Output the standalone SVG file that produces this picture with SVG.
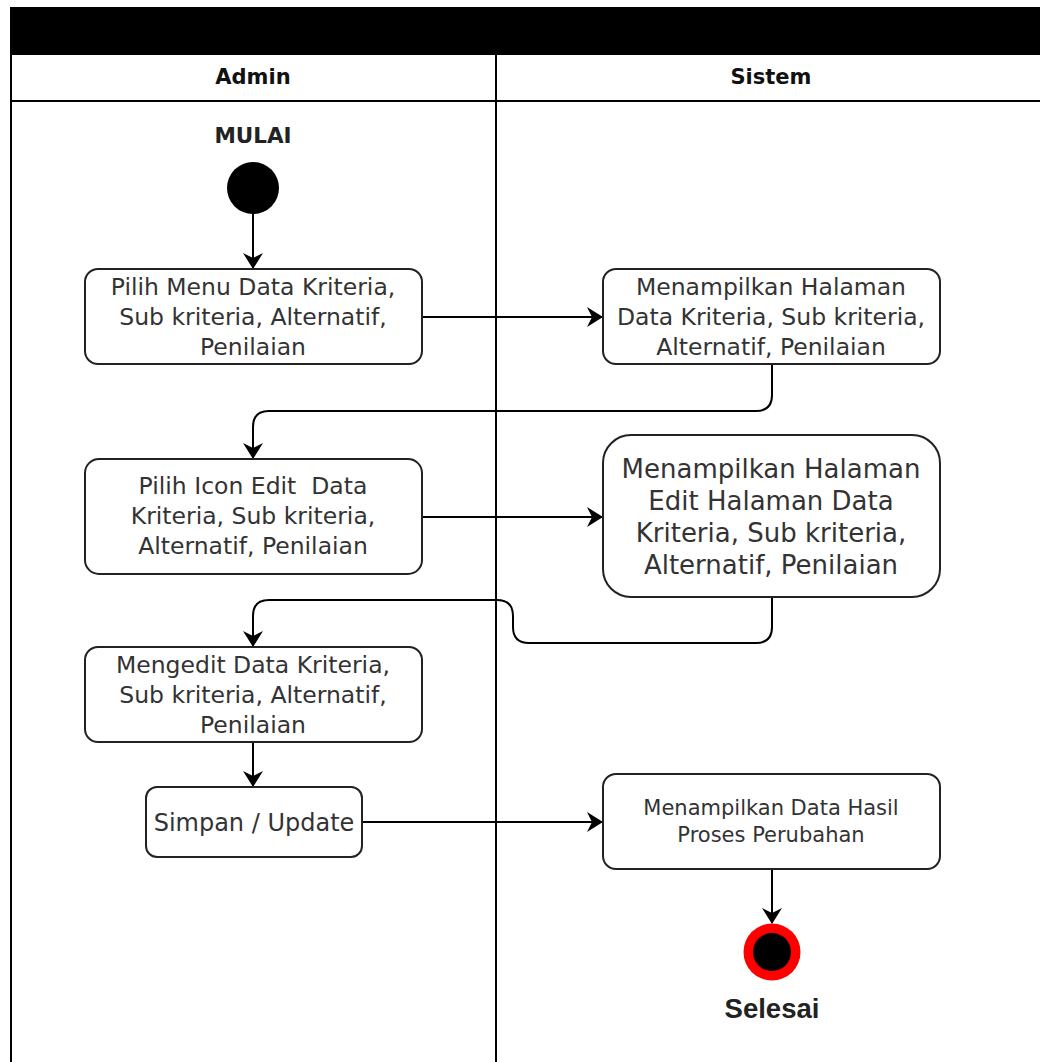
<svg xmlns="http://www.w3.org/2000/svg" width="1040" height="1062" viewBox="0 0 1040 1062">
  <style>
    .lane { fill: none; stroke: #000; stroke-width: 2; }
    .act { fill: #fff; stroke: #222; stroke-width: 2; }
    .lbl { font-family: "DejaVu Sans", Verdana, sans-serif; fill: #333; text-anchor: middle; }
    .hdr { font-family: "DejaVu Sans", Verdana, sans-serif; font-weight: bold; fill: #111; text-anchor: middle; font-size: 21px; }
    .edge { fill: none; stroke: #000; stroke-width: 2; marker-end: url(#arrow); }
  </style>
  <defs>
    <marker id="arrow" markerUnits="userSpaceOnUse" markerWidth="16" markerHeight="20" viewBox="0 0 16 20" refX="15" refY="10" orient="auto">
      <path d="M0,0 L16,10 L0,20 L5,10 Z" fill="#000"/>
    </marker>
  </defs>

  <rect width="1040" height="1062" fill="#fff"/>

  <!-- swimlane frame -->
  <g id="pool">
    <rect x="10" y="7" width="1030" height="48" fill="#000"/>
    <line class="lane" x1="11" y1="55" x2="11" y2="1062"/>
    <line class="lane" x1="496" y1="55" x2="496" y2="1062"/>
    <line class="lane" x1="10" y1="101" x2="1040" y2="101" stroke-width="2.5"/>
    <text class="hdr" x="253" y="84">Admin</text>
    <text class="hdr" x="771" y="84">Sistem</text>
  </g>

  <!-- connectors -->
  <g id="connectors">
    <path class="edge" d="M253,214 L253,268"/>
    <path class="edge" d="M422,317 L602,317"/>
    <path class="edge" d="M772,364 L772,395 Q772,411 756,411 L269,411 Q253,411 253,427 L253,458"/>
    <path class="edge" d="M422,517 L602,517"/>
    <path class="edge" d="M772,597 L772,627 Q772,643 756,643 L529,643 Q513,643 513,627 L513,616 Q513,600 497,600 L269,600 Q253,600 253,616 L253,646"/>
    <path class="edge" d="M253,742 L253,786"/>
    <path class="edge" d="M362,822 L602,822"/>
    <path class="edge" d="M772,869 L772,923"/>
  </g>

  <g id="start">
    <text x="253" y="143" font-family="'DejaVu Sans', Verdana, sans-serif" font-weight="bold" font-size="21.5" fill="#222" text-anchor="middle">MULAI</text>
    <circle cx="253" cy="188" r="26" fill="#000"/>
  </g>

  <g id="pilih-menu">
    <rect class="act" x="85" y="269" width="337" height="95" rx="13"/>
    <text class="lbl" font-size="23.5"><tspan x="253" y="295">Pilih Menu Data Kriteria,</tspan><tspan x="253" y="325">Sub kriteria, Alternatif,</tspan><tspan x="253" y="355">Penilaian</tspan></text>
  </g>

  <g id="tampil-halaman">
    <rect class="act" x="603" y="269" width="337" height="95" rx="13"/>
    <text class="lbl" font-size="23.5"><tspan x="771" y="295">Menampilkan Halaman</tspan><tspan x="771" y="325">Data Kriteria, Sub kriteria,</tspan><tspan x="771" y="355">Alternatif, Penilaian</tspan></text>
  </g>

  <g id="pilih-edit">
    <rect class="act" x="85" y="459" width="337" height="115" rx="14"/>
    <text class="lbl" font-size="23.5" xml:space="preserve"><tspan x="253" y="494">Pilih Icon Edit  Data</tspan><tspan x="253" y="524">Kriteria, Sub kriteria,</tspan><tspan x="253" y="554">Alternatif, Penilaian</tspan></text>
  </g>

  <g id="tampil-edit">
    <rect class="act" x="603" y="435" width="337" height="162" rx="28"/>
    <text class="lbl" font-size="26"><tspan x="771" y="478">Menampilkan Halaman</tspan><tspan x="771" y="510">Edit Halaman Data</tspan><tspan x="771" y="542">Kriteria, Sub kriteria,</tspan><tspan x="771" y="574">Alternatif, Penilaian</tspan></text>
  </g>

  <g id="mengedit">
    <rect class="act" x="85" y="647" width="337" height="95" rx="13"/>
    <text class="lbl" font-size="23.5"><tspan x="253" y="673">Mengedit Data Kriteria,</tspan><tspan x="253" y="703">Sub kriteria, Alternatif,</tspan><tspan x="253" y="733">Penilaian</tspan></text>
  </g>

  <g id="simpan">
    <rect class="act" x="146" y="787" width="216" height="70" rx="11"/>
    <text class="lbl" font-size="24" x="254" y="831">Simpan / Update</text>
  </g>

  <g id="tampil-hasil">
    <rect class="act" x="603" y="774" width="337" height="95" rx="13"/>
    <text class="lbl" font-size="21"><tspan x="771" y="815">Menampilkan Data Hasil</tspan><tspan x="771" y="842">Proses Perubahan</tspan></text>
  </g>

  <g id="end">
    <circle cx="772" cy="952" r="28.5" fill="#f00"/>
    <circle cx="772" cy="952" r="19" fill="#000"/>
    <text x="772" y="1018" font-family="'Liberation Sans', Arial, sans-serif" font-weight="bold" font-size="27.5" fill="#222" text-anchor="middle">Selesai</text>
  </g>
</svg>
